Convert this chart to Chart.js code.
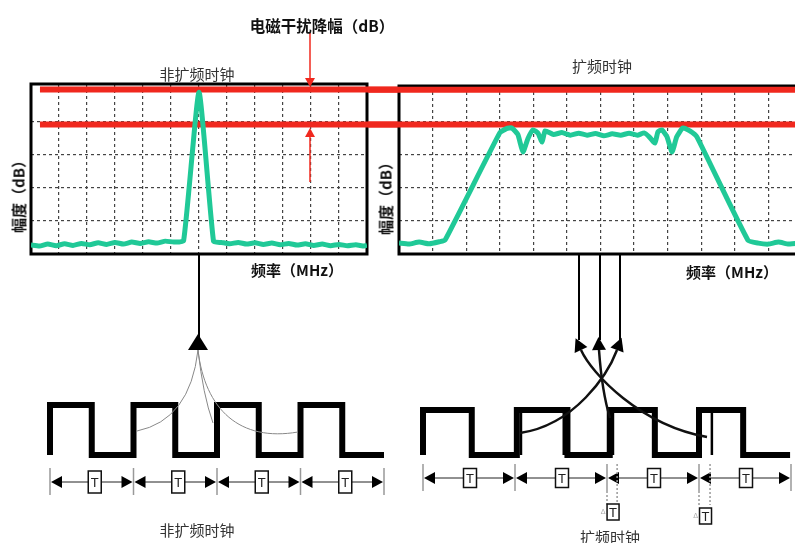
<!DOCTYPE html>
<html lang="zh">
<head>
<meta charset="UTF-8">
<title>扩频时钟与电磁干扰</title>
<style>
    body { margin: 0; background: #fff; }
    #page {
        position: relative; width: 795px; height: 543px; overflow: hidden;
        font-family: "Noto Sans CJK SC", "Noto Sans", sans-serif; color: #111;
    }
    canvas { position: absolute; }
    .lbl {
        position: absolute; transform: translate(-50%, -50%);
        white-space: nowrap; font-size: 15px; line-height: 1;
    }
    .bold { font-weight: bold; }
    .vert { transform: translate(-50%, -50%) rotate(-90deg); }
</style>
</head>
<body>
<div id="page">
    <canvas id="nsSpectrum" width="400" height="210" style="left:0;top:60px"></canvas>
    <canvas id="ssSpectrum" width="440" height="210" style="left:368px;top:60px"></canvas>
    <canvas id="nsClock" width="360" height="110" style="left:40px;top:395px"></canvas>
    <canvas id="ssClock" width="390" height="130" style="left:413px;top:400px"></canvas>
    <canvas id="overlay" width="795" height="543" style="left:0;top:0"></canvas>

    <div class="lbl bold" style="left:322px;top:26px;font-size:15.5px">电磁干扰降幅（dB）</div>
    <div class="lbl" style="left:197px;top:73px;color:#333">非扩频时钟</div>
    <div class="lbl" style="left:602px;top:65px;color:#333">扩频时钟</div>
    <div class="lbl bold vert" style="left:18px;top:193px">幅度（dB）</div>
    <div class="lbl bold vert" style="left:385px;top:195px">幅度（dB）</div>
    <div class="lbl bold" style="left:297px;top:269px">频率（MHz）</div>
    <div class="lbl bold" style="left:732px;top:271px">频率（MHz）</div>
    <div class="lbl" style="left:197px;top:529px;color:#333">非扩频时钟</div>
    <div class="lbl" style="left:610px;top:536px;color:#333">扩频时钟</div>
</div>

<script src="https://cdn.jsdelivr.net/npm/chart.js"></script>
<script>
    // spectrum data: x in grid divisions, y in dB divisions
    const nsFreq = [0, 0.3, 0.6, 0.9, 1.2, 1.5, 1.8, 2.1, 2.4, 2.7, 3.0, 3.3, 3.6, 3.9, 4.2, 4.5, 4.8, 5.1,
                    5.45, 6.0, 6.52,
                    6.8, 7.1, 7.4, 7.7, 8.0, 8.3, 8.6, 8.9, 9.2, 9.5, 9.8, 10.1, 10.4, 10.7, 11.0, 11.3, 11.6, 11.9, 12];
    const nsAmp  = [0.27, 0.24, 0.3, 0.25, 0.31, 0.26, 0.32, 0.28, 0.34, 0.29, 0.35, 0.3, 0.36, 0.32, 0.37, 0.33, 0.39, 0.36,
                    0.4, 4.9, 0.38,
                    0.35, 0.31, 0.35, 0.3, 0.34, 0.29, 0.33, 0.28, 0.32, 0.27, 0.31, 0.26, 0.3, 0.25, 0.29, 0.25, 0.28, 0.24, 0.27];

    const ssFreq = [0, 0.3, 0.6, 0.9, 1.2, 1.37, 3.0, 3.2, 3.36, 3.54, 3.69, 3.84, 3.99, 4.14, 4.26, 4.35,
                    4.6, 4.85, 5.1, 5.35, 5.6, 5.85, 6.1, 6.35, 6.6, 6.85, 7.1, 7.3, 7.45, 7.62, 7.71, 7.83,
                    7.98, 8.13, 8.27, 8.45, 8.66, 8.87, 10.39, 10.7, 11.0, 11.3, 11.6, 12];
    const ssAmp  = [0.33, 0.3, 0.36, 0.31, 0.37, 0.42, 3.67, 3.8, 3.82, 3.62, 3.09, 3.5, 3.76, 3.66, 3.39, 3.73,
                    3.62, 3.68, 3.6, 3.66, 3.6, 3.65, 3.58, 3.64, 3.6, 3.66, 3.6, 3.67, 3.55, 3.36, 3.7, 3.76,
                    3.55, 3.09, 3.55, 3.82, 3.73, 3.55, 0.42, 0.33, 0.3, 0.36, 0.3, 0.34];

    // EMI levels: non spread peak and spread peak
    const emiLevels = [4.98, 3.92];

    // clock edges, in units of period T
    const nsEdges = [0, 0.5, 1.0, 1.5, 2.0, 2.5, 3.0, 3.5];
    const nsEnd = 4.0;
    const ssEdges = [0, 0.53, 1.02, 1.57, 2.03, 2.52, 3.0, 3.48];
    const ssEnd = 3.99;
    const ssJitter = [1.065, 1.53, 2.065, 3.14];
    const periodTicks = [0, 1, 2, 3, 4];
    const ssDeltaAt = [2, 3];
    const ssDelta = [0.11, 0.12];

    const green = '#20c997';
    const red = '#f0281e';

    // box round the plot area
    const frame = {
        id: 'frame',
        beforeDatasetsDraw(chart) {
            const a = chart.chartArea, ctx = chart.ctx;
            ctx.save();
            ctx.strokeStyle = '#000';
            ctx.lineWidth = 3;
            ctx.strokeRect(a.left, a.top, a.right - a.left, a.bottom - a.top);
            ctx.restore();
        }
    };

    function spectrumChart(id, freq, amp, redFrom, redTo, yMax, pad) {
        const datasets = [{
            data: freq.map((f, i) => ({ x: f, y: amp[i] })),
            borderColor: green, borderWidth: 5, pointRadius: 0, tension: 0.15,
            borderJoinStyle: 'round'
        }];
        emiLevels.forEach(l => datasets.push({
            data: [{ x: redFrom, y: l }, { x: redTo, y: l }],
            borderColor: red, borderWidth: 6, pointRadius: 0, clip: false
        }));
        const axis = (min, max) => ({
            type: 'linear', min: min, max: max,
            ticks: { display: false, stepSize: 1 },
            grid: { color: '#444', lineWidth: 1.2, drawTicks: false },
            border: { display: false, dash: [3, 3] }
        });
        return new Chart(document.getElementById(id), {
            type: 'line',
            data: { datasets: datasets },
            options: {
                responsive: false, animation: false, events: [],
                layout: { padding: pad },
                plugins: { legend: { display: false }, tooltip: { enabled: false } },
                scales: { x: axis(0, 12), y: axis(0, yMax) }
            },
            plugins: [frame]
        });
    }

    spectrumChart('nsSpectrum', nsFreq, nsAmp, 0.32, 13.18, 5.15,
        { left: 31, right: 33, top: 24, bottom: 16 });
    spectrumChart('ssSpectrum', ssFreq, ssAmp, -0.92, 12, 5.09,
        { left: 31, right: 6, top: 26, bottom: 16 });

    // period markers under the clock waves
    function arrowTip(ctx, x, y, dir) {
        ctx.beginPath();
        ctx.moveTo(x, y);
        ctx.lineTo(x - dir * 11, y - 6);
        ctx.lineTo(x - dir * 11, y + 6);
        ctx.closePath();
        ctx.fill();
    }
    function labelBox(ctx, cx, cy, w, h, txt) {
        ctx.fillStyle = '#fff';
        ctx.fillRect(cx - w / 2, cy - h / 2, w, h);
        ctx.strokeStyle = '#111';
        ctx.lineWidth = 1.5;
        ctx.strokeRect(cx - w / 2, cy - h / 2, w, h);
        ctx.fillStyle = '#222';
        ctx.font = '13px "Liberation Sans", sans-serif';
        ctx.textAlign = 'center';
        ctx.textBaseline = 'middle';
        ctx.fillText(txt, cx, cy + 1);
    }
    const periodMarks = {
        id: 'periodMarks',
        afterDraw(chart, args, o) {
            const ctx = chart.ctx, xs = chart.scales.x;
            const y = chart.chartArea.bottom + o.offset;
            ctx.save();
            ctx.strokeStyle = '#999';
            ctx.lineWidth = 1.5;
            o.ticks.forEach(t => {
                const x = xs.getPixelForValue(t);
                ctx.beginPath(); ctx.moveTo(x, y - 14); ctx.lineTo(x, y + 13); ctx.stroke();
            });
            for (let i = 0; i < o.ticks.length - 1; i++) {
                const a = xs.getPixelForValue(o.ticks[i]);
                const b = xs.getPixelForValue(o.ticks[i + 1]);
                ctx.strokeStyle = '#222';
                ctx.lineWidth = 1;
                ctx.beginPath(); ctx.moveTo(a + 4, y); ctx.lineTo(b - 4, y); ctx.stroke();
                ctx.fillStyle = '#000';
                arrowTip(ctx, a + 1, y, -1);
                arrowTip(ctx, b - 1, y, 1);
                labelBox(ctx, (a + b) / 2 + o.boxShift, y, 13, o.boxH, 'T');
            }
            (o.deltaAt || []).forEach((t, i) => {
                const a = xs.getPixelForValue(t);
                const b = xs.getPixelForValue(t + o.delta[i]);
                ctx.strokeStyle = '#999';
                ctx.lineWidth = 1.5;
                ctx.setLineDash([2, 2]);
                ctx.beginPath();
                ctx.moveTo(a, y + 13); ctx.lineTo(a, y + 27);
                ctx.moveTo(b, y - 14); ctx.lineTo(b, y + 27);
                ctx.stroke();
                ctx.setLineDash([]);
                const cy = y + 34 + i * 4;
                labelBox(ctx, (a + b) / 2 + 1, cy, 12, 16, 'T');
                ctx.fillStyle = '#aaa';
                ctx.font = '7px "DejaVu Sans", sans-serif';
                ctx.fillText('Δ', (a + b) / 2 - 9, cy);
            });
            ctx.restore();
        }
    };

    function wavePoints(edges, end) {
        let level = 0;
        const pts = [{ x: edges[0], y: 0 }];
        edges.forEach(e => {
            pts.push({ x: e, y: level });
            level = 1 - level;
            pts.push({ x: e, y: level });
        });
        pts.push({ x: end, y: level });
        return pts;
    }

    function clockChart(id, edges, end, jitter, pad, marks) {
        const datasets = [{
            data: wavePoints(edges, end),
            borderColor: '#000', borderWidth: 6, pointRadius: 0, tension: 0,
            borderJoinStyle: 'miter', borderCapStyle: 'butt', clip: false
        }];
        if (jitter.length) {
            const pts = [];
            jitter.forEach(j => pts.push({ x: j, y: 0 }, { x: j, y: 1 }, { x: j, y: null }));
            datasets.push({
                data: pts, borderColor: '#000', borderWidth: 2.5, pointRadius: 0,
                spanGaps: false, clip: false
            });
        }
        return new Chart(document.getElementById(id), {
            type: 'line',
            data: { datasets: datasets },
            options: {
                responsive: false, animation: false, events: [],
                layout: { padding: pad },
                plugins: { legend: { display: false }, tooltip: { enabled: false }, periodMarks: marks },
                scales: {
                    x: { type: 'linear', display: false, min: 0, max: 4 },
                    y: { display: false, min: 0, max: 1 }
                }
            },
            plugins: [periodMarks]
        });
    }

    clockChart('nsClock', nsEdges, nsEnd, [], { left: 10, right: 16, top: 10, bottom: 50 },
        { ticks: periodTicks, offset: 27, boxShift: 3, boxH: 22 });
    clockChart('ssClock', ssEdges, ssEnd, ssJitter, { left: 10, right: 12, top: 10, bottom: 75 },
        { ticks: periodTicks, offset: 23, boxShift: 1, boxH: 19, deltaAt: ssDeltaAt, delta: ssDelta });

    // connectors and arrows
    const ov = document.getElementById('overlay').getContext('2d');
    function head(ctx, bx, by, dx, dy, len, half) {
        const n = Math.hypot(dx, dy);
        dx /= n; dy /= n;
        ctx.beginPath();
        ctx.moveTo(bx + dx * len, by + dy * len);
        ctx.lineTo(bx - dy * half, by + dx * half);
        ctx.lineTo(bx + dy * half, by - dx * half);
        ctx.closePath();
        ctx.fill();
    }
    function line(ctx, x1, y1, x2, y2) {
        ctx.beginPath(); ctx.moveTo(x1, y1); ctx.lineTo(x2, y2); ctx.stroke();
    }

    // red EMI reduction arrows
    ov.strokeStyle = red; ov.fillStyle = red; ov.lineWidth = 1.5;
    line(ov, 310, 33, 310, 79);
    head(ov, 310, 78, 0, 1, 9, 5);
    line(ov, 310, 136, 310, 182);
    head(ov, 310, 137, 0, -1, 9, 5);

    // non spread spectrum: one line, one arrow
    ov.strokeStyle = '#000'; ov.fillStyle = '#000'; ov.lineWidth = 2;
    line(ov, 199, 254, 199, 340);
    head(ov, 198, 350, 0, -1, 16, 10);
    ov.strokeStyle = '#888'; ov.lineWidth = 1;
    ov.beginPath(); ov.moveTo(198, 350); ov.quadraticCurveTo(190, 420, 137, 431); ov.stroke();
    ov.beginPath(); ov.moveTo(198, 350); ov.quadraticCurveTo(203, 395, 213, 423); ov.stroke();
    ov.beginPath(); ov.moveTo(198, 350); ov.bezierCurveTo(205, 410, 240, 442, 298, 432); ov.stroke();

    // spread spectrum: three lines, three arrows
    ov.strokeStyle = '#000'; ov.lineWidth = 2;
    line(ov, 579, 254, 579, 340);
    line(ov, 600, 254, 600, 340);
    line(ov, 620, 254, 620, 340);
    ov.strokeStyle = '#111'; ov.lineWidth = 2.5;
    ov.beginPath(); ov.moveTo(581, 350); ov.bezierCurveTo(592, 374, 640, 425, 707, 437); ov.stroke();
    ov.beginPath(); ov.moveTo(599, 350); ov.quadraticCurveTo(602, 392, 610, 418); ov.stroke();
    ov.beginPath(); ov.moveTo(617, 350); ov.bezierCurveTo(608, 374, 575, 425, 520, 433); ov.stroke();
    ov.fillStyle = '#000';
    head(ov, 581, 350, -11, -24, 13, 7);
    head(ov, 599, 350, -1, -24, 13, 7);
    head(ov, 617, 350, 9, -24, 13, 7);
</script>
</body>
</html>
